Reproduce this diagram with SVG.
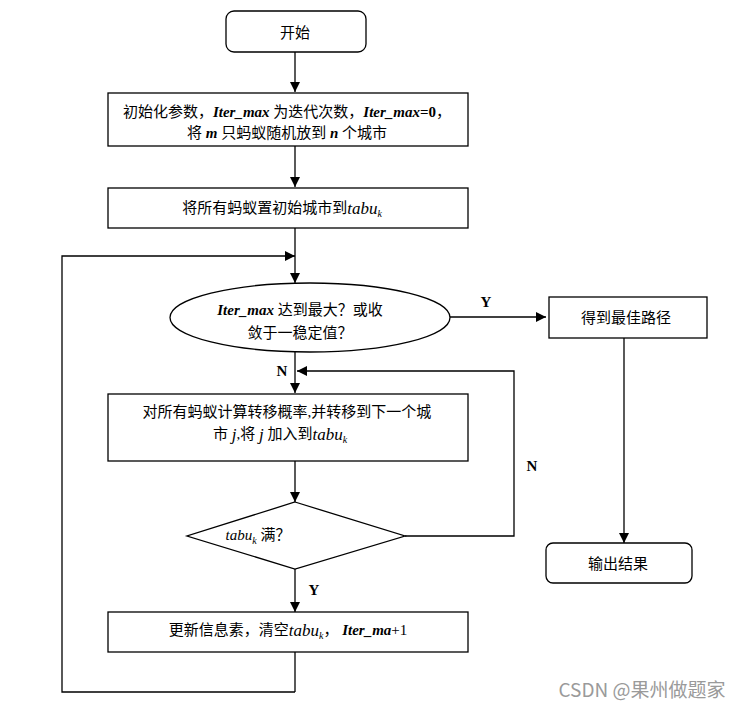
<svg xmlns="http://www.w3.org/2000/svg" width="747" height="709" viewBox="0 0 747 709">
<defs>
<marker id="arr" viewBox="0 0 10 10" refX="10" refY="5" markerWidth="10" markerHeight="10" markerUnits="userSpaceOnUse" orient="auto">
<path d="M0,0 L10,5 L0,10 Z" fill="#000"/>
</marker>
<style>
.s{fill:#fff;stroke:#000;stroke-width:1.3}
.c{fill:none;stroke:#000;stroke-width:1.3}
.a{marker-end:url(#arr)}
.t{font-family:"Liberation Serif","Noto Sans CJK SC",serif;font-size:15px;fill:#000;text-anchor:middle;dominant-baseline:central}
.bi{font-weight:bold;font-style:italic}
.b{font-weight:bold}
.i{font-style:italic}
.tb{font-style:italic;font-size:17px}
.sub{font-size:10px;font-style:italic}
.lbl{font-family:"Liberation Serif",serif;font-size:15px;font-weight:bold;fill:#000;text-anchor:middle;dominant-baseline:central}
.wm{font-family:"Noto Sans CJK SC","Liberation Sans",sans-serif;font-size:19px;fill:#9a9a9a;text-anchor:middle;dominant-baseline:central}
</style>
</defs>
<rect width="747" height="709" fill="#fff"/>
<g id="connectors">
<path class="c a" d="M295,52 V92"/>
<path class="c a" d="M295,146 V187"/>
<path class="c a" d="M295,228 V283"/>
<path class="c a" d="M295,692 H62 V256 H295"/>
<path class="c a" d="M450,317 H546"/>
<path class="c a" d="M624,338 V543"/>
<path class="c a" d="M295,352 V393"/>
<path class="c a" d="M295,461 V502"/>
<path class="c a" d="M405,536 H514 V371 H297"/>
<path class="c a" d="M295,569 V612"/>
<path class="c" d="M295,652 V692"/>
<text class="lbl" x="486" y="302">Y</text>
<text class="lbl" x="282" y="371">N</text>
<text class="lbl" x="532" y="466">N</text>
<text class="lbl" x="314" y="590">Y</text>
</g>
<g id="start">
<rect class="s" x="226" y="11" width="140" height="41" rx="8"/>
<text class="t" x="295" y="33">开始</text>
</g>
<g id="init">
<rect class="s" x="108" y="93" width="360" height="53"/>
<text class="t" x="287" y="112">初始化参数，<tspan class="bi">Iter_max</tspan> 为迭代次数，<tspan class="bi">Iter_max</tspan><tspan class="b">=0</tspan>，</text>
<text class="t" x="287" y="133">将 <tspan class="bi">m</tspan> 只蚂蚁随机放到 <tspan class="bi">n</tspan> 个城市</text>
</g>
<g id="place">
<rect class="s" x="108" y="188" width="360" height="40"/>
<text class="t" x="282" y="208">将所有蚂蚁置初始城市到<tspan class="tb">tabu</tspan><tspan class="sub" dy="5">k</tspan></text>
</g>
<g id="check">
<ellipse class="s" cx="310" cy="317.5" rx="140" ry="34.5"/>
<text class="t" x="300" y="310"><tspan class="bi">Iter_max</tspan> 达到最大？或收</text>
<text class="t" x="300" y="333">敛于一稳定值？</text>
</g>
<g id="best">
<rect class="s" x="549" y="297" width="158" height="41"/>
<text class="t" x="626" y="318">得到最佳路径</text>
</g>
<g id="output">
<rect class="s" x="546" y="543" width="146" height="40" rx="7"/>
<text class="t" x="618" y="564">输出结果</text>
</g>
<g id="move">
<rect class="s" x="108" y="394" width="360" height="67"/>
<text class="t" x="287" y="412">对所有蚂蚁计算转移概率,并转移到下一个城</text>
<text class="t" x="280" y="434">市 <tspan class="tb">j</tspan>,将 <tspan class="tb">j</tspan> 加入到<tspan class="tb">tabu</tspan><tspan class="sub" dy="5">k</tspan></text>
</g>
<g id="full">
<polygon class="s" points="295,502 405,536 295,569 187,536"/>
<text class="t" x="258" y="535"><tspan class="i">tabu</tspan><tspan class="sub" dy="5">k</tspan><tspan dy="-5"> 满？</tspan></text>
</g>
<g id="update">
<rect class="s" x="108" y="612" width="360" height="40"/>
<text class="t" x="288" y="630">更新信息素，清空<tspan class="tb">tabu</tspan><tspan class="sub" dy="5">k</tspan><tspan dy="-5">， </tspan><tspan class="bi">Iter_ma</tspan>+1</text>
</g>
<text class="wm" x="642" y="688">CSDN @果州做题家</text>
</svg>
